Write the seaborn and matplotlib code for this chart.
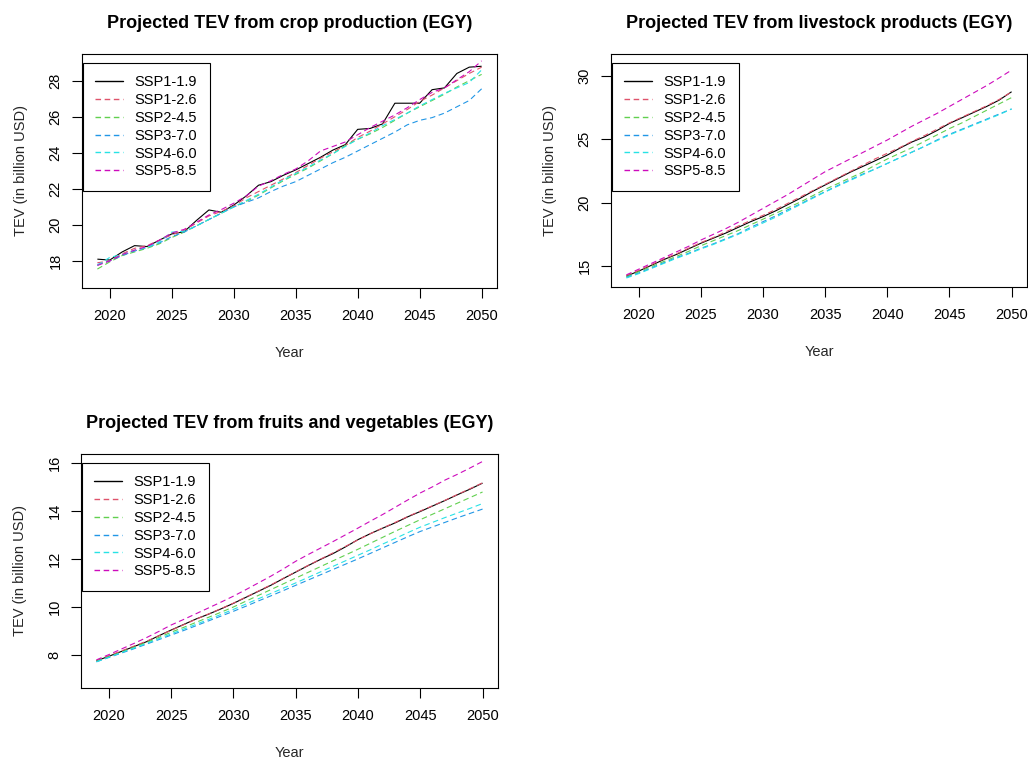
import matplotlib
matplotlib.use("Agg")
import matplotlib.pyplot as plt
from matplotlib.lines import Line2D
import seaborn as sns
import numpy as np
import pandas as pd

years = list(range(2019, 2051))
scenarios = ["SSP1-1.9", "SSP1-2.6", "SSP2-4.5", "SSP3-7.0", "SSP4-6.0", "SSP5-8.5"]
colors = ["#000000", "#DF536B", "#61D04F", "#2297E6", "#28E2E5", "#CD0BBC"]

titles = ["Projected TEV from crop production (EGY)",
          "Projected TEV from livestock products (EGY)",
          "Projected TEV from fruits and vegetables (EGY)"]

# Crop production
crop_ssp119 = [18.1, 18.05, 18.5, 18.85, 18.8, 19.15, 19.5, 19.62, 20.25, 20.83, 20.7, 21.1,
               21.6, 22.2, 22.4, 22.75, 23.05, 23.4, 23.75, 24.15, 24.45, 25.3, 25.35, 25.6,
               26.75, 26.75, 26.75, 27.5, 27.6, 28.4, 28.75, 28.8]
crop_ssp126 = [17.9, 18.0, 18.4, 18.7, 18.85, 19.15, 19.45, 19.7, 20.1, 20.5, 20.75, 21.05,
               21.5, 21.85, 22.2, 22.55, 22.9, 23.3, 23.7, 24.05, 24.4, 24.85, 25.2, 25.6,
               26.0, 26.4, 26.85, 27.2, 27.6, 28.0, 28.4, 28.75]
crop_ssp245 = [17.55, 17.95, 18.3, 18.5, 18.7, 18.95, 19.3, 19.6, 19.95, 20.3, 20.65, 21.0,
               21.3, 21.65, 22.05, 22.45, 22.8, 23.15, 23.55, 23.95, 24.4, 24.75, 25.05, 25.4,
               25.8, 26.2, 26.55, 26.9, 27.25, 27.65, 28.0, 28.35]
crop_ssp370 = [17.8, 18.0, 18.3, 18.55, 18.75, 19.0, 19.35, 19.6, 19.95, 20.3, 20.65, 21.0,
               21.25, 21.5, 21.85, 22.15, 22.4, 22.75, 23.1, 23.45, 23.75, 24.1, 24.45, 24.8,
               25.15, 25.55, 25.8, 25.95, 26.2, 26.55, 26.9, 27.55]
crop_ssp460 = [17.75, 18.2, 18.35, 18.6, 18.75, 19.05, 19.6, 19.65, 19.95, 20.3, 20.65, 21.0,
               21.35, 21.7, 22.1, 22.5, 22.85, 23.2, 23.6, 23.95, 24.35, 24.75, 25.1, 25.5,
               25.85, 26.2, 26.6, 26.95, 27.3, 27.6, 27.9, 28.6]
crop_ssp585 = [17.75, 18.0, 18.35, 18.6, 18.8, 19.15, 19.55, 19.75, 20.15, 20.55, 20.85, 21.2,
               21.6, 22.15, 22.45, 22.8, 23.1, 23.55, 24.1, 24.35, 24.6, 25.0, 25.4, 25.75,
               26.1, 26.5, 26.95, 27.35, 27.6, 28.05, 28.5, 29.1]

# Livestock products
live_ssp119 = [14.2, 14.6, 15.05, 15.5, 15.9, 16.35, 16.8, 17.2, 17.6, 18.05, 18.5, 18.9,
               19.35, 19.85, 20.35, 20.9, 21.4, 21.9, 22.4, 22.85, 23.3, 23.76, 24.3, 24.8,
               25.2, 25.7, 26.26, 26.7, 27.15, 27.6, 28.1, 28.76]
live_ssp126 = [14.25, 14.65, 15.1, 15.55, 15.95, 16.4, 16.85, 17.25, 17.7, 18.15, 18.6, 19.0,
               19.45, 19.95, 20.45, 20.95, 21.45, 21.95, 22.45, 22.95, 23.45, 23.9, 24.35, 24.85,
               25.3, 25.8, 26.3, 26.75, 27.2, 27.65, 28.15, 28.75]
live_ssp245 = [14.15, 14.55, 14.95, 15.35, 15.75, 16.15, 16.6, 17.0, 17.4, 17.8, 18.25, 18.7,
               19.15, 19.6, 20.05, 20.55, 21.05, 21.5, 21.95, 22.4, 22.95, 23.45, 23.9, 24.35,
               24.85, 25.35, 25.85, 26.3, 26.8, 27.3, 27.8, 28.3]
live_ssp370 = [14.1, 14.45, 14.85, 15.25, 15.65, 16.0, 16.4, 16.75, 17.15, 17.55, 18.05, 18.5,
               18.95, 19.45, 19.9, 20.4, 20.87, 21.35, 21.8, 22.25, 22.65, 23.1, 23.55, 24.0,
               24.45, 24.95, 25.4, 25.8, 26.2, 26.6, 27.0, 27.4]
live_ssp460 = [14.05, 14.4, 14.8, 15.2, 15.6, 15.95, 16.35, 16.7, 17.1, 17.5, 17.95, 18.4,
               18.85, 19.35, 19.85, 20.35, 20.85, 21.3, 21.75, 22.2, 22.65, 23.1, 23.55, 24.0,
               24.45, 24.9, 25.35, 25.75, 26.15, 26.55, 26.95, 27.4]
live_ssp585 = [14.3, 14.75, 15.2, 15.65, 16.1, 16.55, 17.05, 17.5, 17.95, 18.45, 19.0, 19.55,
               20.1, 20.65, 21.25, 21.85, 22.45, 22.95, 23.45, 23.95, 24.45, 24.95, 25.5, 26.05,
               26.55, 27.05, 27.6, 28.15, 28.7, 29.25, 29.85, 30.47]

# Fruits and vegetables
fruit_ssp119 = [7.76, 7.95, 8.15, 8.35, 8.55, 8.8, 9.04, 9.27, 9.5, 9.7, 9.92, 10.15,
                10.4, 10.65, 10.9, 11.18, 11.45, 11.72, 11.98, 12.22, 12.5, 12.8, 13.05, 13.28,
                13.5, 13.75, 13.97, 14.2, 14.43, 14.67, 14.9, 15.15]
fruit_ssp126 = [7.78, 7.97, 8.17, 8.37, 8.57, 8.8, 9.03, 9.26, 9.49, 9.71, 9.93, 10.16,
                10.41, 10.66, 10.92, 11.19, 11.46, 11.73, 11.99, 12.25, 12.52, 12.79, 13.05, 13.29,
                13.52, 13.76, 13.99, 14.21, 14.44, 14.68, 14.92, 15.16]
fruit_ssp245 = [7.74, 7.93, 8.12, 8.32, 8.52, 8.73, 8.95, 9.15, 9.36, 9.57, 9.78, 10.0,
                10.24, 10.48, 10.72, 10.96, 11.2, 11.44, 11.68, 11.92, 12.16, 12.4, 12.65, 12.9,
                13.15, 13.39, 13.63, 13.86, 14.09, 14.32, 14.55, 14.78]
fruit_ssp370 = [7.72, 7.9, 8.08, 8.26, 8.45, 8.64, 8.83, 9.02, 9.22, 9.42, 9.62, 9.82,
                10.03, 10.25, 10.46, 10.68, 10.9, 11.12, 11.34, 11.56, 11.78, 12.0, 12.23, 12.46,
                12.69, 12.92, 13.14, 13.33, 13.52, 13.71, 13.89, 14.07]
fruit_ssp460 = [7.72, 7.91, 8.1, 8.29, 8.48, 8.68, 8.88, 9.08, 9.28, 9.48, 9.69, 9.9,
                10.12, 10.34, 10.56, 10.78, 11.0, 11.23, 11.46, 11.69, 11.92, 12.15, 12.38, 12.62,
                12.85, 13.09, 13.32, 13.52, 13.72, 13.91, 14.1, 14.3]
fruit_ssp585 = [7.8, 8.02, 8.25, 8.48, 8.72, 8.98, 9.25, 9.48, 9.72, 9.96, 10.2, 10.45,
                10.72, 11.0, 11.28, 11.58, 11.9, 12.18, 12.45, 12.72, 13.0, 13.28, 13.57, 13.85,
                14.15, 14.45, 14.74, 15.0, 15.28, 15.52, 15.78, 16.05]

x_ticks = [2020, 2025, 2030, 2035, 2040, 2045, 2050]
y_ticks = [[18, 20, 22, 24, 26, 28], [15, 20, 25, 30], [8, 10, 12, 14, 16]]

panel_series = [
    [crop_ssp119, crop_ssp126, crop_ssp245, crop_ssp370, crop_ssp460, crop_ssp585],
    [live_ssp119, live_ssp126, live_ssp245, live_ssp370, live_ssp460, live_ssp585],
    [fruit_ssp119, fruit_ssp126, fruit_ssp245, fruit_ssp370, fruit_ssp460, fruit_ssp585],
]

sns.set_style("white")
plt.rcParams["font.family"] = ["Liberation Sans", "DejaVu Sans"]
plt.rcParams["axes.edgecolor"] = "black"
plt.rcParams["text.color"] = "black"

W, H = 1028, 761
fig = plt.figure(figsize=(W / 100, H / 100), dpi=100)

# axes boxes in pixels: left, top, right, bottom
boxes = [(82, 54, 497, 288), (611, 54, 1027, 287), (81, 454, 498, 688)]
ylims = [(16.50, 29.48), (13.34, 31.74), (6.63, 16.36)]

palette = dict(zip(scenarios, colors))
dash_pat = (5, 3.2)
dashes = {s: ((1, 0) if i == 0 else dash_pat) for i, s in enumerate(scenarios)}
LW = 0.8

for k in range(3):
    l, t, r, b = boxes[k]
    ax = fig.add_axes([l / W, 1 - b / H, (r - l) / W, (b - t) / H])
    rows = []
    for s, vals in zip(scenarios, panel_series[k]):
        for yr, v in zip(years, vals):
            rows.append((yr, v, s))
    df = pd.DataFrame(rows, columns=["Year", "TEV", "Scenario"])
    sns.lineplot(data=df, x="Year", y="TEV", hue="Scenario", style="Scenario",
                 palette=palette, dashes=dashes, hue_order=scenarios,
                 style_order=scenarios, linewidth=LW, ax=ax, legend=False)
    ax.set_xlim(2017.76, 2051.24)
    ax.set_ylim(*ylims[k])
    ax.set_xticks(x_ticks)
    ax.set_yticks(y_ticks[k])
    ax.tick_params(axis="both", which="major", direction="out", length=7, width=0.8,
                   color="black", labelsize=10.5, labelcolor="black", bottom=True, left=True)
    ax.tick_params(axis="x", pad=8)
    ax.tick_params(axis="y", pad=7)
    for lab in ax.get_yticklabels():
        lab.set_rotation(90)
        lab.set_va("center")
    for sp in ax.spines.values():
        sp.set_color("black")
        sp.set_linewidth(0.8)
    ax.set_xlabel("Year", fontsize=10.5, labelpad=17)
    ax.set_ylabel("TEV (in billion USD)", fontsize=10.5, labelpad=15)
    ax.set_title(titles[k], fontsize=13, fontweight="bold", pad=19)
    handles = []
    for i, (s, c) in enumerate(zip(scenarios, colors)):
        if i == 0:
            h = Line2D([0], [0], color=c, lw=1.0, linestyle="-")
        else:
            h = Line2D([0], [0], color=c, lw=1.0, linestyle=(0, (4, 2.6)))
        handles.append(h)
    leg = ax.legend(handles, scenarios, loc="upper left",
                    bbox_to_anchor=(0.0024, 1 - 9 / (b - t)), borderaxespad=0,
                    fontsize=10.5, frameon=True, fancybox=False, framealpha=1,
                    edgecolor="black", handlelength=1.9, handletextpad=0.8,
                    borderpad=0.85, labelspacing=0.26)
    leg.get_frame().set_linewidth(0.8)

fig.savefig("out.png", dpi=100)
